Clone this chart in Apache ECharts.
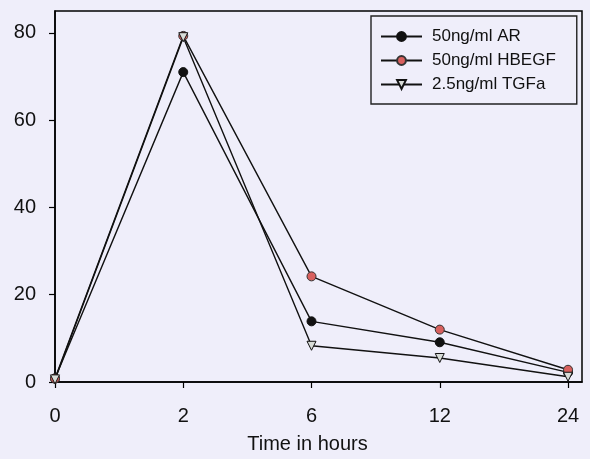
<!DOCTYPE html>
<html><head><meta charset="utf-8">
<script src="https://cdn.jsdelivr.net/npm/echarts@6/dist/echarts.min.js"></script>
<style>html,body{margin:0;padding:0;background:#efeefa}#c{width:590px;height:459px}</style>
</head><body><div id="c"></div>
<script>
const categories = ['0', '2', '6', '12', '24'];
const seriesNames = ['50ng/ml AR', '50ng/ml HBEGF', '2.5ng/ml TGFa'];
const arValues = [0.8, 71.0, 13.9, 9.1, 2.2];
const hbegfValues = [0.8, 79.3, 24.2, 12.0, 2.8];
const tgfaValues = [0.6, 79.0, 8.3, 5.5, 1.2];
const yTicks = [0, 20, 40, 60, 80];

const toPairs = v => v.map((y, i) => [i, y]);
const font = 'Liberation Sans, Arial, sans-serif';
const chart = echarts.init(document.getElementById('c'), null, {renderer: 'canvas'});
chart.setOption({
  backgroundColor: '#efeefa',
  animation: false,
  grid: {left: 55, top: 11, right: 8, bottom: 74, show: true, borderColor: '#000', borderWidth: 1.5, backgroundColor: 'transparent'},
  legend: {
    left: 371, top: 16, orient: 'vertical',
    data: seriesNames,
    itemWidth: 41, itemHeight: 11, itemGap: 7,
    padding: [12, 21, 11, 9],
    borderColor: '#222', borderWidth: 1.4, backgroundColor: 'transparent',
    textStyle: {fontFamily: font, fontSize: 17, color: '#111', padding: [0, 0, 0, 5]}
  },
  xAxis: {
    type: 'value', min: 0, max: 4.109, interval: 1,
    name: 'Time in hours', nameLocation: 'middle', nameGap: 52,
    nameTextStyle: {fontFamily: font, fontSize: 20, color: '#111', padding: [0, 22, 0, 0]},
    axisLine: {show: true, lineStyle: {color: '#000', width: 1.5}},
    axisTick: {show: true, length: 6, lineStyle: {color: '#000', width: 1.2}},
    splitLine: {show: false},
    axisLabel: {showMaxLabel: false, margin: 24, fontFamily: font, fontSize: 20, color: '#111',
      formatter: v => categories[Math.round(v)] !== undefined && Math.abs(v - Math.round(v)) < 1e-6 ? categories[Math.round(v)] : ''}
  },
  yAxis: {
    type: 'value', min: 0, max: 85, interval: 20,
    axisLine: {show: true, lineStyle: {color: '#000', width: 1.5}},
    axisTick: {show: true, length: 6, lineStyle: {color: '#000', width: 1.2}},
    splitLine: {show: false},
    axisLabel: {showMaxLabel: false, margin: 19, fontFamily: font, fontSize: 20, color: '#111',
      formatter: v => yTicks.includes(v) ? String(v) : ''}
  },
  series: [
    {name: seriesNames[0], type: 'line', data: toPairs(arValues), symbol: 'circle', symbolSize: 9,
      lineStyle: {color: '#111', width: 1.4}, itemStyle: {color: '#111', borderColor: '#111', borderWidth: 1}},
    {name: seriesNames[1], type: 'line', data: toPairs(hbegfValues), symbol: 'circle', symbolSize: 9,
      lineStyle: {color: '#111', width: 1.4}, itemStyle: {color: '#d8605e', borderColor: '#333', borderWidth: 1}},
    {name: seriesNames[2], type: 'line', data: toPairs(tgfaValues), symbol: 'triangle', symbolRotate: 180, symbolSize: 9,
      lineStyle: {color: '#111', width: 1.4}, itemStyle: {color: '#d8dcd8', borderColor: '#111', borderWidth: 1}}
  ]
});
</script></body></html>
